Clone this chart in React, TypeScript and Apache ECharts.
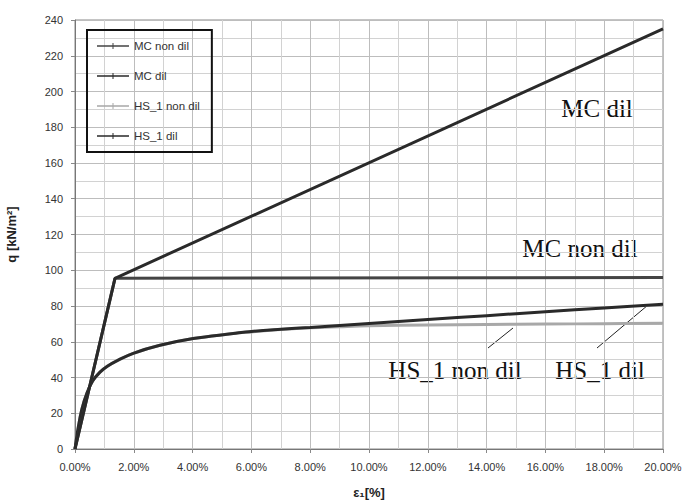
import React, { useEffect, useRef } from "react";
import * as echarts from "echarts";

const xTicks = [0, 2, 4, 6, 8, 10, 12, 14, 16, 18, 20];
const yTicks = [0, 20, 40, 60, 80, 100, 120, 140, 160, 180, 200, 220, 240];

const mcNonDil: [number, number][] = [[0, 0], [1.36, 95.5], [20, 96]];
const mcDil: [number, number][] = [[0, 0], [1.36, 95.5], [20, 235]];
const hsNonDil: [number, number][] = [
  [0, 0], [0.1, 11], [0.23, 22], [0.4, 31], [0.6, 38], [0.85, 43], [1.1, 46.3], [1.42, 49.3], [1.98, 53.5],
  [2.89, 58], [4.02, 61.8], [5.38, 64.6], [6, 65.5], [7, 66.8], [8, 67.8], [9, 68.4], [10, 68.9],
  [12, 69.4], [14, 69.7], [16, 69.9], [18, 70.1], [20, 70.3],
];
const hsDil: [number, number][] = [
  [0, 0], [0.1, 11], [0.23, 22], [0.4, 31], [0.6, 38], [0.85, 43], [1.1, 46.3], [1.42, 49.3], [1.98, 53.5],
  [2.89, 58], [4.02, 61.8], [5.38, 64.6], [6, 65.8], [7, 67], [8, 68], [9, 69.1], [10, 70.2],
  [12, 72.4], [14, 74.6], [16, 76.8], [18, 78.9], [20, 81],
];

const legendIcon = "path://M0,4.3 L32,4.3 L32,5.7 L0,5.7 Z M15.5,2 L16.5,2 L16.5,8 L15.5,8 Z";

export default function App() {
  const ref = useRef<HTMLDivElement>(null);
  useEffect(() => {
    document.body.style.margin = "0";
    const chart = echarts.init(ref.current!, null, { renderer: "svg" });
    const annFont = '"Liberation Serif", "DejaVu Serif", serif';
    const sans = "Arial, 'Liberation Sans', sans-serif";
    chart.setOption({
      animation: false,
      backgroundColor: "#ffffff",
      grid: {
        left: 75, right: 20, top: 20, bottom: 55,
        outerBoundsMode: "none",
        containLabel: false,
        show: true, borderColor: "#888", borderWidth: 1,
      },
      legend: {
        left: 87,
        top: 30,
        orient: "vertical",
        borderColor: "#111",
        borderWidth: 2,
        padding: [10, 12, 10, 10],
        itemGap: 18,
        itemWidth: 32,
        itemHeight: 10,
        icon: legendIcon,
        textStyle: { fontSize: 11.5, color: "#333", fontFamily: sans },
        data: ["MC non dil", "MC dil", "HS_1 non dil", "HS_1 dil"],
      },
      xAxis: {
        type: "value",
        min: 0,
        max: 20,
        interval: 2,
        name: "ε₁[%]",
        nameLocation: "middle",
        nameGap: 37,
        nameTextStyle: { fontSize: 13, fontWeight: "bold", color: "#222", fontFamily: sans },
        axisLine: { lineStyle: { color: "#777" } },
        axisTick: { show: true, length: 4, lineStyle: { color: "#888" } },
        axisLabel: {
          fontSize: 11,
          margin: 12,
          color: "#333",
          fontFamily: sans,
          formatter: (v: number) => (xTicks.includes(v) ? v.toFixed(2) + "%" : ""),
        },
        splitLine: { show: true, lineStyle: { color: "#bdbdbd", width: 1 } },
        minorTick: { show: false, splitNumber: 2 },
        minorSplitLine: { show: true, lineStyle: { color: "#d2d2d2", width: 1 } },
      },
      yAxis: {
        type: "value",
        min: 0,
        max: 240,
        interval: 20,
        name: "q [kN/m²]",
        nameLocation: "middle",
        nameGap: 57,
        nameTextStyle: { fontSize: 13, fontWeight: "bold", color: "#222", fontFamily: sans },
        axisLine: { show: true, lineStyle: { color: "#777" } },
        axisTick: { show: true, length: 4, lineStyle: { color: "#888" } },
        axisLabel: {
          fontSize: 11,
          margin: 12,
          color: "#333",
          fontFamily: sans,
          formatter: (v: number) => (yTicks.includes(v) ? String(v) : ""),
        },
        splitLine: { show: true, lineStyle: { color: "#bdbdbd", width: 1 } },
        minorTick: { show: false, splitNumber: 2 },
        minorSplitLine: { show: true, lineStyle: { color: "#d2d2d2", width: 1 } },
      },
      series: [
        {
          name: "HS_1 non dil",
          type: "line",
          data: hsNonDil,
          symbol: "none",
          lineStyle: { color: "#a8a8a8", width: 3 },
          itemStyle: { color: "#a8a8a8" },
          smooth: 0.4,
        },
        {
          name: "HS_1 dil",
          type: "line",
          data: hsDil,
          symbol: "none",
          lineStyle: { color: "#2a2a2a", width: 3 },
          itemStyle: { color: "#2a2a2a" },
          smooth: 0.4,
        },
        {
          name: "MC non dil",
          type: "line",
          data: mcNonDil,
          symbol: "none",
          lineStyle: { color: "#444444", width: 3 },
          itemStyle: { color: "#444444" },
        },
        {
          name: "MC dil",
          type: "line",
          data: mcDil,
          symbol: "none",
          lineStyle: { color: "#2a2a2a", width: 3 },
          itemStyle: { color: "#2a2a2a" },
        },
      ],
      graphic: [
        { type: "text", x: 597, y: 108, style: { text: "MC dil", font: `25px ${annFont}`, fill: "#111", align: "center", verticalAlign: "middle" } },
        { type: "text", x: 580, y: 248, style: { text: "MC non dil", font: `25px ${annFont}`, fill: "#111", align: "center", verticalAlign: "middle" } },
        { type: "text", x: 455, y: 370, style: { text: "HS_1 non dil", font: `25px ${annFont}`, fill: "#111", align: "center", verticalAlign: "middle" } },
        { type: "text", x: 600, y: 370, style: { text: "HS_1 dil", font: `25px ${annFont}`, fill: "#111", align: "center", verticalAlign: "middle" } },
        { type: "line", shape: { x1: 488, y1: 348, x2: 513, y2: 328 }, style: { stroke: "#222", lineWidth: 1 } },
        { type: "line", shape: { x1: 597, y1: 348, x2: 648, y2: 305 }, style: { stroke: "#222", lineWidth: 1 } },
      ],
    });
    return () => chart.dispose();
  }, []);
  return <div ref={ref} style={{ position: "absolute", left: 0, top: 0, width: 683, height: 504 }} />;
}
